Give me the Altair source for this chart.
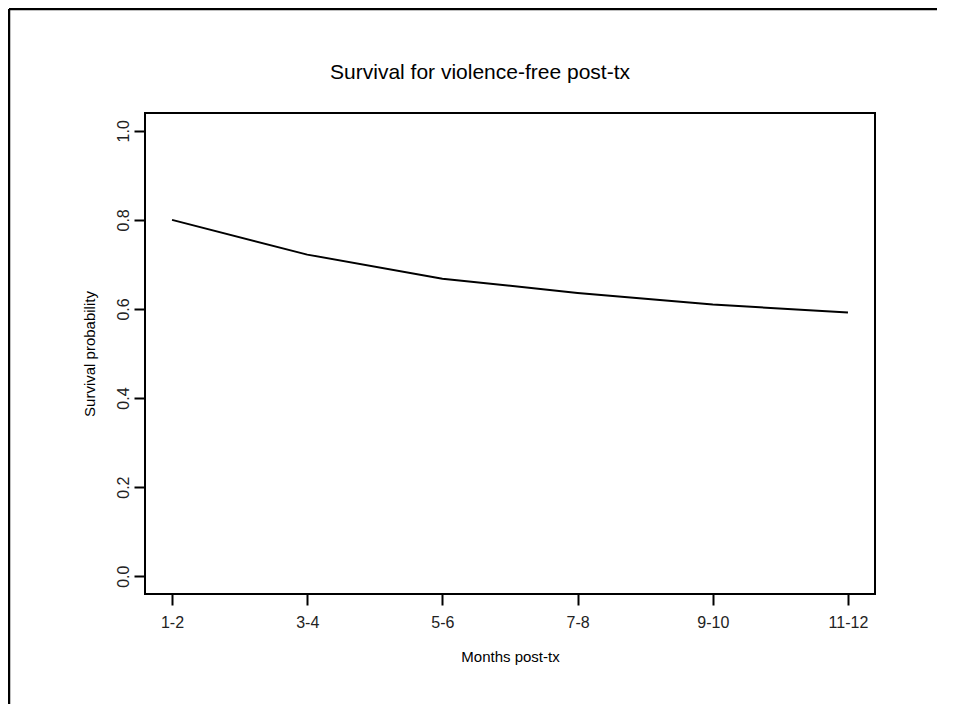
import altair as alt
import pandas as pd

months = ["1-2", "3-4", "5-6", "7-8", "9-10", "11-12"]
position = [1, 2, 3, 4, 5, 6]
survival = [0.80, 0.722, 0.668, 0.636, 0.610, 0.592]
y_ticks = [0.0, 0.2, 0.4, 0.6, 0.8, 1.0]
title_text = ["Survival for violence-free post-tx"]

df = pd.DataFrame({"pos": position, "month": months, "surv": survival})
tdf = pd.DataFrame({"t": title_text})

FONT = "Liberation Sans"
label_expr = "[" + ",".join(f"'{m}'" for m in months) + "][datum.value - 1]"

line = alt.Chart(df).mark_line(color="black", strokeWidth=2).encode(
    x=alt.X(
        "pos:Q",
        scale=alt.Scale(domain=[0.8, 6.2], nice=False, zero=False),
        axis=alt.Axis(
            values=position, labelExpr=label_expr, title="Months post-tx",
            grid=False, domain=False, tickSize=11, tickWidth=2, tickColor="black",
            labelFont=FONT, labelFontSize=16, labelColor="#222222", labelPadding=9,
            titleFont=FONT, titleFontSize=15, titleFontWeight="normal",
            titleColor="black", titlePadding=19,
        ),
    ),
    y=alt.Y(
        "surv:Q",
        scale=alt.Scale(domain=[-0.04, 1.04], nice=False, zero=False),
        axis=alt.Axis(
            values=y_ticks, format=".1f", title="Survival probability",
            grid=False, domain=False, tickSize=11, tickWidth=2, tickColor="black",
            labelFont=FONT, labelFontSize=16, labelColor="#222222",
            labelAngle=270, labelAlign="center", labelBaseline="bottom", labelPadding=3,
            titleFont=FONT, titleFontSize=15, titleFontWeight="normal",
            titleColor="black", titlePadding=18,
        ),
    ),
)

title = alt.Chart(tdf).mark_text(
    font=FONT, fontSize=21, color="black", align="center", baseline="middle"
).encode(text="t:N", x=alt.value(335), y=alt.value(-40))

# outer figure frame (left and top edges visible in the reference)
frame_left = alt.Chart(tdf).mark_rule(color="black", strokeWidth=2.5).encode(
    x=alt.value(-136), y=alt.value(-104), y2=alt.value(720)
)
frame_top = alt.Chart(tdf).mark_rule(color="black", strokeWidth=2.5).encode(
    x=alt.value(-136), x2=alt.value(900), y=alt.value(-104)
)

chart = alt.layer(frame_left, frame_top, title, line).properties(
    width=730,
    height=481,
    background="white",
    autosize=alt.AutoSizeParams(type="none"),
    padding={"left": 137, "top": 105, "right": 62, "bottom": 110},
).configure_view(stroke="black", strokeWidth=2)

chart.save("out.html", embed_options={"renderer": "svg", "actions": False})
